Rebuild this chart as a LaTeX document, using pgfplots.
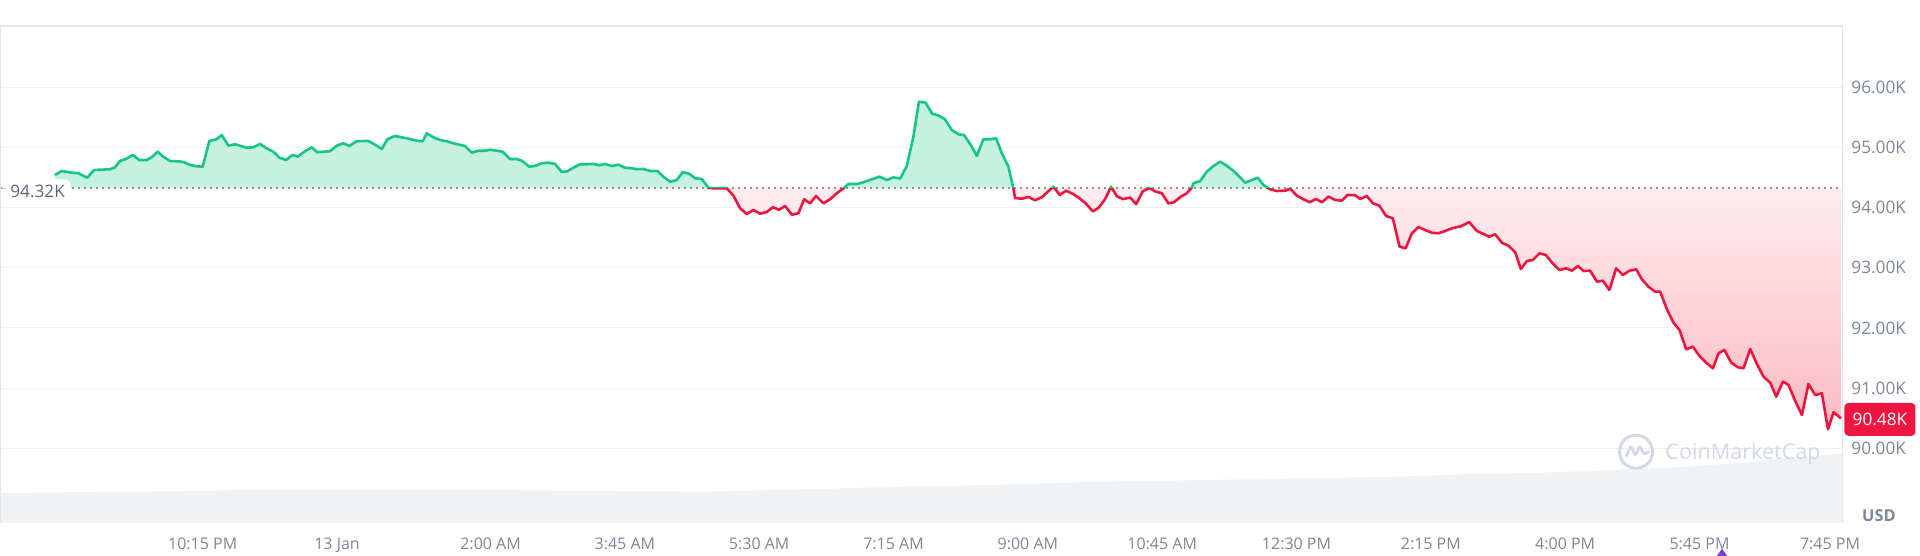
\documentclass[border=0pt]{standalone}
\usepackage{fontspec}
\setmainfont{Open Sans}
\usepackage{pgfplots}
\pgfplotsset{compat=1.18}
\usepackage{pgfplotstable}

\definecolor{upgreen}{RGB}{22,199,132}
\definecolor{upfill}{RGB}{198,241,222}
\definecolor{downred}{RGB}{238,22,62}
\definecolor{downfill}{RGB}{252,186,196}
\definecolor{gridgrey}{RGB}{238,240,243}
\definecolor{framegrey}{RGB}{226,229,233}
\definecolor{labelgrey}{RGB}{125,135,153}
\definecolor{darkgrey}{RGB}{88,102,126}
\definecolor{dotgrey}{RGB}{140,146,158}
\definecolor{volgrey}{RGB}{240,243,246}
\definecolor{wmark}{RGB}{211,217,228}
\definecolor{evpurple}{RGB}{123,63,228}

% price, hours from 13 Jan 00:00 -> thousand USD
\pgfplotstableread{
t v
-3.675 94.540
-3.588 94.606
-3.457 94.578
-3.371 94.568
-3.253 94.495
-3.166 94.623
-2.957 94.635
-2.893 94.668
-2.828 94.772
-2.749 94.806
-2.662 94.872
-2.576 94.789
-2.479 94.789
-2.415 94.834
-2.337 94.927
-2.264 94.844
-2.176 94.772
-2.068 94.767
-2.002 94.756
-1.915 94.706
-1.828 94.684
-1.750 94.678
-1.664 95.105
-1.568 95.133
-1.502 95.204
-1.416 95.027
-1.329 95.050
-1.264 95.027
-1.177 94.993
-1.091 95.000
-1.004 95.055
-0.916 94.983
-0.830 94.927
-0.751 94.827
-0.664 94.789
-0.577 94.872
-0.512 94.844
-0.426 94.927
-0.330 95.000
-0.257 94.917
-0.178 94.927
-0.091 94.934
-0.004 95.027
0.082 95.066
0.160 95.022
0.257 95.100
0.407 95.105
0.496 95.043
0.583 94.972
0.656 95.133
0.756 95.188
0.929 95.143
1.060 95.105
1.117 95.100
1.169 95.233
1.255 95.166
1.343 95.121
1.429 95.100
1.516 95.066
1.667 95.022
1.756 94.910
1.841 94.943
1.929 94.943
1.994 94.960
2.159 94.927
2.254 94.806
2.341 94.806
2.407 94.778
2.505 94.678
2.580 94.690
2.667 94.734
2.753 94.744
2.840 94.723
2.928 94.590
3.000 94.601
3.088 94.668
3.167 94.718
3.245 94.718
3.340 94.723
3.418 94.701
3.492 94.723
3.579 94.689
3.665 94.711
3.752 94.661
3.840 94.651
3.913 94.635
3.991 94.640
4.078 94.606
4.174 94.606
4.251 94.512
4.339 94.429
4.427 94.457
4.505 94.590
4.591 94.557
4.665 94.485
4.752 94.473
4.838 94.329
4.903 94.319
5.078 94.319
5.164 94.196
5.251 93.987
5.338 93.892
5.425 93.958
5.512 93.897
5.599 93.925
5.677 94.003
5.759 93.963
5.838 94.025
5.925 93.880
6.011 93.904
6.085 94.136
6.163 94.070
6.241 94.191
6.336 94.070
6.423 94.136
6.511 94.236
6.597 94.319
6.662 94.390
6.771 94.390
6.858 94.419
6.967 94.468
7.066 94.512
7.163 94.457
7.249 94.502
7.336 94.479
7.423 94.690
7.509 95.176
7.581 95.758
7.668 95.741
7.753 95.558
7.835 95.528
7.916 95.470
8.009 95.287
8.095 95.216
8.169 95.204
8.257 95.038
8.335 94.855
8.420 95.133
8.508 95.133
8.587 95.150
8.661 94.900
8.747 94.678
8.811 94.319
8.834 94.158
8.921 94.145
9.007 94.175
9.094 94.120
9.182 94.171
9.268 94.271
9.333 94.346
9.415 94.208
9.498 94.279
9.590 94.224
9.672 94.153
9.753 94.070
9.847 93.935
9.926 94.000
10.007 94.141
10.084 94.346
10.159 94.188
10.242 94.138
10.333 94.166
10.411 94.055
10.498 94.271
10.584 94.324
10.658 94.268
10.745 94.238
10.831 94.070
10.905 94.087
10.993 94.180
11.071 94.236
11.136 94.329
11.158 94.402
11.245 94.440
11.331 94.595
11.418 94.689
11.505 94.761
11.592 94.694
11.679 94.607
11.757 94.512
11.831 94.412
11.918 94.457
11.996 94.495
12.069 94.374
12.156 94.302
12.244 94.274
12.352 94.279
12.417 94.312
12.505 94.196
12.591 94.136
12.669 94.087
12.756 94.141
12.831 94.087
12.916 94.180
13.004 94.125
13.091 94.113
13.164 94.208
13.264 94.203
13.329 94.141
13.416 94.191
13.494 94.070
13.580 94.030
13.667 93.859
13.755 93.821
13.842 93.349
13.922 93.322
14.003 93.571
14.089 93.676
14.176 93.626
14.263 93.580
14.349 93.571
14.436 93.610
14.524 93.654
14.632 93.685
14.697 93.721
14.749 93.759
14.849 93.610
14.935 93.560
15.013 93.515
15.088 93.555
15.175 93.415
15.262 93.365
15.349 93.256
15.423 92.978
15.501 93.111
15.580 93.128
15.666 93.239
15.749 93.211
15.848 93.056
15.926 92.962
16.013 92.990
16.087 92.950
16.166 93.028
16.239 92.945
16.326 92.950
16.413 92.768
16.491 92.784
16.577 92.630
16.664 92.990
16.752 92.879
16.838 92.950
16.925 92.973
17.000 92.807
17.086 92.684
17.173 92.601
17.238 92.601
17.326 92.309
17.411 92.086
17.490 91.965
17.577 91.645
17.664 91.688
17.750 91.533
17.837 91.422
17.925 91.329
17.999 91.578
18.075 91.633
18.164 91.422
18.251 91.346
18.324 91.329
18.411 91.650
18.498 91.400
18.584 91.190
18.671 91.090
18.750 90.857
18.837 91.107
18.910 91.052
18.997 90.786
19.084 90.554
19.170 91.068
19.257 90.886
19.345 90.914
19.424 90.315
19.496 90.598
19.593 90.498
}\price

% volume bars, drawn on the price scale as in the chart
\pgfplotstableread{
t vol
-4.391 89.262
-2.554 89.279
-1.199 89.307
1.993 89.307
4.782 89.279
5.733 89.307
6.619 89.336
7.570 89.374
8.117 89.379
9.954 89.445
11.870 89.485
13.303 89.518
14.111 89.540
14.658 89.568
15.414 89.585
16.287 89.623
17.590 89.694
18.450 89.777
19.101 89.860
19.622 89.917
}\volume

\begin{document}
\begin{tikzpicture}[x=1pt,y=1pt]
\path[use as bounding box] (0,0) rectangle (960,278);
\begin{axis}[
    at={(0pt,16.5pt)}, anchor=south west,
    scale only axis, width=921.5pt, height=248.5pt,
    xmin=-4.391, xmax=19.62, ymin=88.759, ymax=97.015,
    axis line style={draw=none},
    major tick length=0pt,
    xtick={-1.75,0,2,3.75,5.5,7.25,9,10.75,12.5,14.25,16,17.75,19.45},
    xticklabels={10:15 PM,13 Jan,2:00 AM,3:45 AM,5:30 AM,7:15 AM,9:00 AM,10:45 AM,12:30 PM,2:15 PM,4:00 PM,5:45 PM,7:45 PM},
    xticklabel style={anchor=base, inner sep=0pt, yshift=-13.4pt,
        font=\fontsize{8}{9}\selectfont, text=labelgrey},
    ytick={90,91,...,96},
    yticklabel pos=right,
    yticklabel={\pgfmathprintnumber[fixed,fixed zerofill,precision=2,assume math mode=true]{\tick}K},
    yticklabel style={anchor=west, inner sep=0pt, xshift=4pt,
        font=\fontsize{8.6}{10}\selectfont, text=labelgrey},
    ymajorgrids, grid style={gridgrey, line width=0.5pt},
]
\addplot[fill=volgrey, draw=none] table[x=t,y=vol]{\volume} \closedcycle;

% area between price and the 94.32K open, green above, red below
\begin{scope}
  \clip (axis cs:-4.391,94.32) rectangle (axis cs:19.62,97.015);
  \addplot[fill=upfill, draw=none] table[x=t,y=v]{\price}
    -- (axis cs:19.593,94.32) -- (axis cs:-3.675,94.32) -- cycle;
\end{scope}
\begin{scope}
  \clip (axis cs:-4.391,88.759) rectangle (axis cs:19.62,94.32);
  \addplot[draw=none, top color=white, bottom color=downfill] table[x=t,y=v]{\price}
    -- (axis cs:19.593,94.32) -- (axis cs:-3.675,94.32) -- cycle;
\end{scope}

\addplot[dotgrey, line width=0.8pt, dash pattern=on 0.8pt off 2.2pt]
    coordinates {(-4.391,94.32) (19.62,94.32)};

\node[anchor=west, fill=white, rounded corners=3pt, inner sep=3pt, xshift=2pt, yshift=-1.7pt,
      text=darkgrey, font=\fontsize{8.6}{10}\selectfont] at (axis cs:-4.391,94.32) {94.32K};
\draw[downred!45, line width=0.6pt] ([xshift=0.8pt]axis cs:-4.391,94.32) -- ([xshift=2.4pt]axis cs:-4.391,94.32);

\begin{scope}
  \clip (axis cs:-4.391,94.32) rectangle (axis cs:19.62,97.015);
  \addplot[upgreen, line width=1.3pt, line join=round] table[x=t,y=v]{\price};
\end{scope}
\begin{scope}
  \clip (axis cs:-4.391,88.759) rectangle (axis cs:19.62,94.32);
  \addplot[downred, line width=1.3pt, line join=round] table[x=t,y=v]{\price};
\end{scope}

\draw[framegrey, line width=0.6pt] (rel axis cs:0,0) -- (rel axis cs:0,1) -- (rel axis cs:1,1) -- (rel axis cs:1,0);
\coordinate (lastlab) at (axis cs:19.62,90.48);
\end{axis}

\node[anchor=west, fill=downred, text=white, rounded corners=2pt, inner sep=0pt,
      minimum width=35.5pt, minimum height=16.5pt, font=\fontsize{8.6}{10}\selectfont]
      at ([xshift=0.5pt]lastlab) {90.48K};

% watermark
\draw[wmark, line width=1.5pt] (818,52.15) circle (8.25);
\draw[wmark, line width=1.4pt, rounded corners=1pt]
  (813,49.6) -- (815.4,55) -- (817.6,50.3) -- (819.9,55) -- (822,50.8) -- (824.5,52.2);
\node[anchor=base west, inner sep=0pt, text=wmark, font=\fontsize{10.8}{12}\selectfont]
  at (832.5,48) {CoinMarketCap};

\node[text=labelgrey, font=\bfseries\fontsize{8.2}{9}\selectfont, inner sep=0pt] at (939.5,20) {USD};
\fill[evpurple] (858.3,0) -- (863.7,0) -- (861,3.6) -- cycle;
\end{tikzpicture}
\end{document}
